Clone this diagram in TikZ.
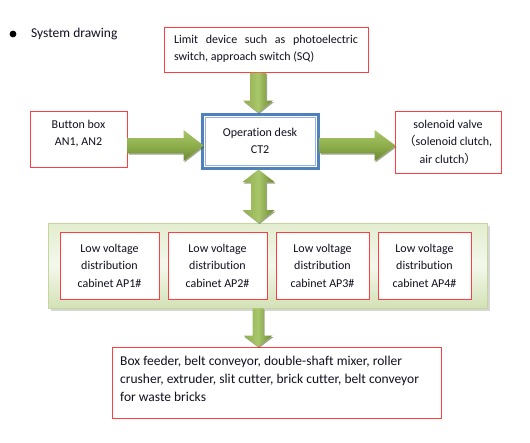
\documentclass[tikz,border=0pt]{standalone}
\usepackage{fontspec}
\setmainfont{Carlito}[Ligatures={NoCommon,NoContextual}]
\newfontfamily\cjk{Noto Sans CJK SC}
\usetikzlibrary{calc,shadows}
\definecolor{boxred}{HTML}{FF3F3F}
\definecolor{deskblue}{HTML}{4F81BD}
\definecolor{deskinner}{HTML}{95B3D7}
\definecolor{olivelight}{HTML}{A9C66B}
\definecolor{olivemid}{HTML}{8EAE4C}
\definecolor{olivedark}{HTML}{6A882F}
\definecolor{oliveshadow}{HTML}{4F6228}
\definecolor{panelborder}{HTML}{C3D69B}
\definecolor{paneltop}{HTML}{E3EDCF}
\definecolor{panelmid}{HTML}{F4F8EC}
\definecolor{panelbot}{HTML}{D3E1B6}
\definecolor{txtcol}{HTML}{101020}

\tikzset{
  txt/.style={font=\fontsize{12}{17.5}\selectfont, inner sep=0pt, text=txtcol},
  redbox/.style={draw=boxred, line width=1pt, fill=white, inner sep=0pt},
  vshade/.style={left color=olivemid, right color=olivedark, middle color=olivelight,
    drop shadow={shadow xshift=1pt, shadow yshift=-1.5pt, fill=oliveshadow, opacity=0.55}},
  hshade/.style={top color=olivelight, bottom color=olivedark, middle color=olivemid,
    drop shadow={shadow xshift=1pt, shadow yshift=-1.5pt, fill=oliveshadow, opacity=0.55}},
}

% #1 start (y used), #2 tip (x,y used), #3 shaft half width, #4 head half width, #5 head length
\newcommand\FatDown[5]{\path[vshade] let \p1=(#1), \p2=(#2) in
  ({\x2-#3pt},\y1) -- ({\x2+#3pt},\y1) -- ({\x2+#3pt},{\y2+#5pt}) -- ({\x2+#4pt},{\y2+#5pt})
  -- (\x2,\y2) -- ({\x2-#4pt},{\y2+#5pt}) -- ({\x2-#3pt},{\y2+#5pt}) -- cycle;}
% #1 top tip (x,y), #2 bottom tip (y)
\newcommand\FatDouble[5]{\path[vshade] let \p1=(#1), \p2=(#2) in
  (\x1,\y1) -- ({\x1+#4pt},{\y1-#5pt}) -- ({\x1+#3pt},{\y1-#5pt}) -- ({\x1+#3pt},{\y2+#5pt})
  -- ({\x1+#4pt},{\y2+#5pt}) -- (\x1,\y2) -- ({\x1-#4pt},{\y2+#5pt}) -- ({\x1-#3pt},{\y2+#5pt})
  -- ({\x1-#3pt},{\y1-#5pt}) -- ({\x1-#4pt},{\y1-#5pt}) -- cycle;}
% #1 start (x), #2 tip (x,y)
\newcommand\FatRight[5]{\path[hshade] let \p1=(#1), \p2=(#2) in
  (\x1,{\y2+#3pt}) -- ({\x2-#5pt},{\y2+#3pt}) -- ({\x2-#5pt},{\y2+#4pt}) -- (\x2,\y2)
  -- ({\x2-#5pt},{\y2-#4pt}) -- ({\x2-#5pt},{\y2-#3pt}) -- (\x1,{\y2-#3pt}) -- cycle;}

\begin{document}
\begin{tikzpicture}[x=1pt, y=-1pt]
\useasboundingbox[fill=white] (0,0) rectangle (530,442);

% title
\fill[black] (13,34) circle (3.4);
\node[txt, font=\fontsize{13.5}{16}\selectfont, anchor=west] (title) at (31,34) {System drawing};

% boxes
\node[redbox, minimum width=204, minimum height=45] (lim) at (266,49.5) {};
\node[txt, text width=184, align=justify] (limtxt) at (266,49)
  {Limit device such as photoelectric\linebreak switch, approach switch (SQ)};

\node[redbox, minimum width=97, minimum height=56] (btn) at (78.5,139) {};
\node[txt, align=center] (btntxt) at (78.5,133.5) {Button box\\AN1, AN2};

\node[draw=deskblue, line width=3pt, fill=white, minimum width=116, minimum height=54, inner sep=0pt,
      txt, align=center] (desk) at (260,141) {Operation desk\\CT2};
\draw[deskinner, line width=1pt] ([shift={(4.5,4.5)}]desk.north west) rectangle ([shift={(-4.5,-4.5)}]desk.south east);

\node[redbox, minimum width=106, minimum height=62, txt, align=center] (sol) at (448,142)
  {solenoid valve\\{\cjk （}solenoid clutch,\\air clutch{\cjk ）}};

% panel
\node[draw=panelborder, line width=0.8pt, minimum width=439, minimum height=85, inner sep=0pt,
      top color=paneltop, bottom color=panelbot, middle color=panelmid,
      drop shadow={shadow xshift=3pt, shadow yshift=-3pt, fill=gray!70, opacity=0.45}] (panel) at (267.5,265.5) {};

\node[redbox, minimum width=99, minimum height=67, txt, align=center] (cab1) at (109.5,265.5)
  {Low voltage\\distribution\\cabinet AP1\#};
\node[redbox, minimum width=99, minimum height=67, txt, align=center] (cab2) at (217.5,265.5)
  {Low voltage\\distribution\\cabinet AP2\#};
\node[redbox, minimum width=93, minimum height=67, txt, align=center] (cab3) at (322.5,265.5)
  {Low voltage\\distribution\\cabinet AP3\#};
\node[redbox, minimum width=93, minimum height=67, txt, align=center] (cab4) at (424.5,265.5)
  {Low voltage\\distribution\\cabinet AP4\#};

\node[redbox, minimum width=329, minimum height=71] (eq) at (276.5,382.5) {};
\node[txt, font=\fontsize{13.5}{18}\selectfont, align=left, anchor=north west] (eqtxt) at (120,356)
  {Box feeder, belt conveyor, double-shaft mixer, roller\\crusher, extruder, slit cutter, brick cutter, belt conveyor\\for waste bricks};

% arrows
\FatDown{lim.south}{[xshift=-2pt]desk.north}{8}{15}{12}
\FatDouble{[xshift=-1.5pt]desk.south}{panel.north}{7.5}{16}{12.5}
\FatRight{btn.east}{[xshift=3pt,yshift=-4.5pt]desk.west}{7.5}{15.5}{20}
\FatRight{desk.east}{[xshift=1pt,yshift=-3.5pt]sol.west}{7.5}{15.5}{21}
\FatDown{panel.south}{[xshift=-18.5pt]eq.north}{5.5}{14.5}{11}
\end{tikzpicture}
\end{document}
